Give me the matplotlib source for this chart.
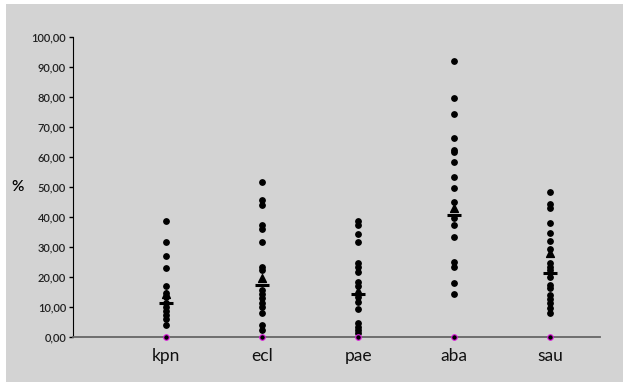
import matplotlib
matplotlib.use("Agg")
import matplotlib.pyplot as plt
from matplotlib.patches import Rectangle

plt.rcParams['font.family'] = ['Lato', 'DejaVu Sans']

# categories and values (%)
categories = ['kpn', 'ecl', 'pae', 'aba', 'sau']

kpn = [38.6, 31.6, 26.9, 23.0, 16.9, 14.6, 13.5, 11.4, 10.1, 8.8, 7.4, 6.1, 3.9]
ecl = [51.7, 45.8, 43.9, 37.4, 35.9, 31.8, 23.4, 22.3, 15.7, 14.3, 12.9,
       11.2, 10.1, 7.9, 3.9, 2.3]
pae = [38.6, 37.2, 34.3, 31.8, 24.8, 23.4, 21.8, 18.4, 17.0, 13.4, 11.6,
       9.4, 4.6, 3.4, 2.3, 1.2]
aba = [91.9, 79.6, 74.4, 66.3, 62.3, 61.8, 58.4, 53.3, 49.8, 44.9, 39.8,
       37.2, 33.2, 25.0, 23.4, 18.0, 14.2]
sau = [48.2, 44.2, 42.9, 38.1, 34.7, 32.0, 29.3, 24.8, 23.4, 22.3, 20.1,
       17.3, 16.2, 14.0, 12.6, 11.2, 9.8, 7.9]
series = [kpn, ecl, pae, aba, sau]

means = [11.4, 17.4, 14.3, 40.8, 21.2]
triangles = [14.3, 19.8, 15.5, 43.1, 27.9]
zeros = [0, 0, 0, 0, 0]

yticks = [0, 10, 20, 30, 40, 50, 60, 70, 80, 90, 100]
ytick_labels = ['0,00', '10,00', '20,00', '30,00', '40,00', '50,00',
                '60,00', '70,00', '80,00', '90,00', '100,00']

bg = '#d3d3d3'
fig = plt.figure(figsize=(6.23, 3.82), dpi=100, facecolor='white')
# gray panel, leaving the thin white strip on the left and top
fig.patches.append(Rectangle((6 / 623, 0), 1, 1 - 4 / 382, transform=fig.transFigure,
                             facecolor=bg, edgecolor='none', zorder=-10))
ax = fig.add_axes([73 / 623, 1 - 337 / 382, 527 / 623, 300 / 382])
ax.set_zorder(1)
ax.set_facecolor(bg)

xs = range(1, len(categories) + 1)
for x, vals in zip(xs, series):
    ax.scatter([x] * len(vals), vals, s=15, color='black', zorder=3, clip_on=False)
ax.scatter(xs, triangles, marker='^', s=32, color='black', zorder=4)
ax.scatter(xs, means, marker='_', s=110, linewidths=2.2, color='black', zorder=5)
ax.scatter(xs, zeros, s=16, color='black', edgecolors='#e020e0', linewidths=0.8,
           zorder=6, clip_on=False)

ax.set_xlim(0.03, 5.52)
ax.set_ylim(0, 100)
ax.set_xticks(list(xs))
ax.set_xticklabels(categories, fontsize=12.5, color='#111111')
ax.set_yticks(yticks)
ax.set_yticklabels(ytick_labels, fontsize=8, fontweight='semibold', color='#222222')
ax.tick_params(axis='x', length=0, pad=8)
ax.tick_params(axis='y', length=3, width=1, direction='out', pad=2)

for side in ['top', 'right']:
    ax.spines[side].set_visible(False)
ax.spines['left'].set_color('black')
ax.spines['bottom'].set_color('#666666')
ax.spines['bottom'].set_linewidth(1.3)

ax.text(-0.106, 50, '%', transform=ax.get_yaxis_transform(), fontsize=11,
        fontweight='semibold', ha='center', va='center')

fig.savefig('out.png', dpi=100, facecolor=fig.get_facecolor())
